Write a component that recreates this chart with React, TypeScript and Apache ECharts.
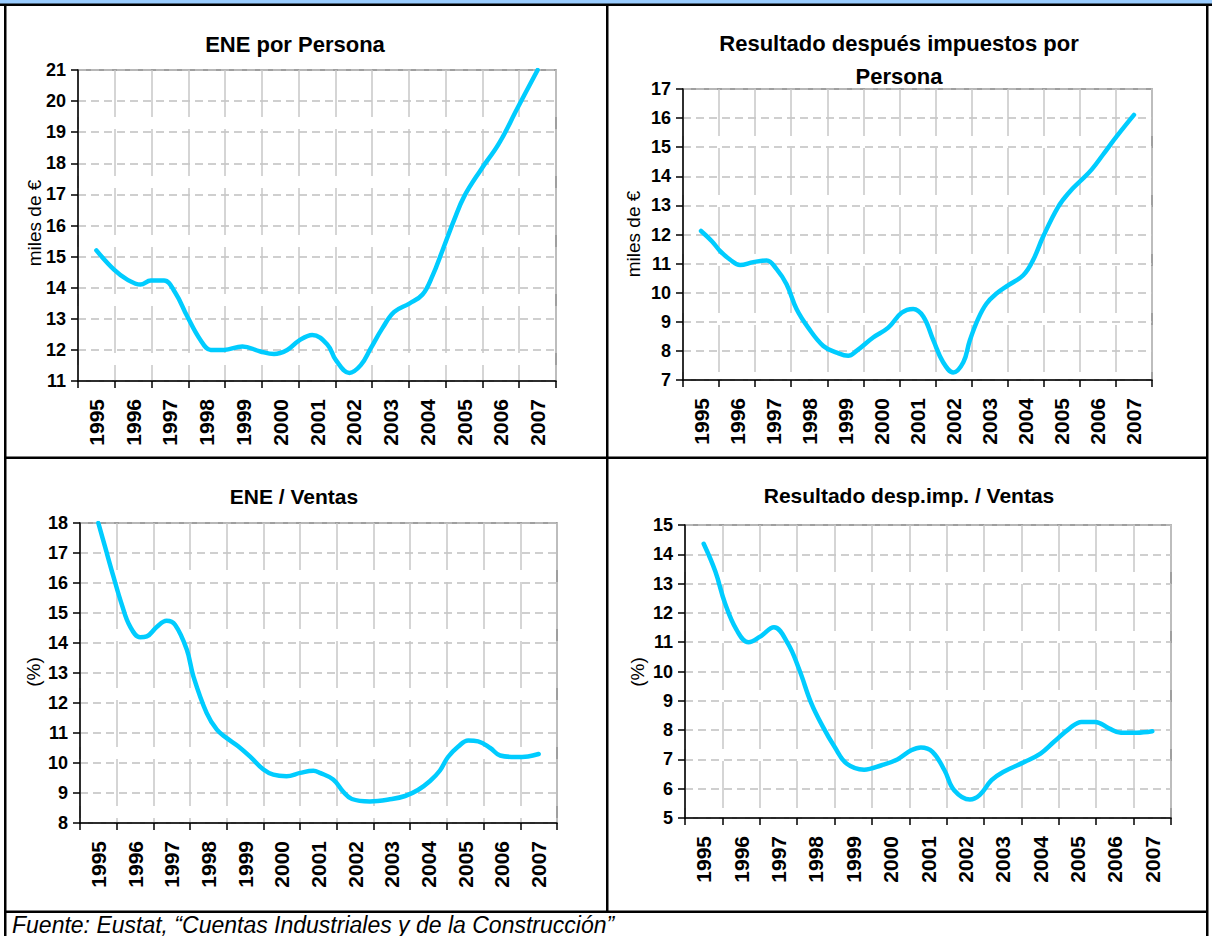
import React, { useEffect, useRef } from "react";
import * as echarts from "echarts";

const FONT = '"Liberation Sans", Arial, Helvetica, sans-serif';

// Category labels
const years = ["1995", "1996", "1997", "1998", "1999", "2000", "2001", "2002", "2003", "2004", "2005", "2006", "2007"];

// ENE por Persona (miles de €)
const enePersonaX = [1995.0, 1995.48, 1995.84, 1996.2, 1996.48, 1996.84, 1997.15, 1997.47, 1997.83, 1998.11, 1998.47, 1998.97, 1999.46, 1999.83, 2000.19, 2000.51, 2000.87, 2001.29, 2001.51, 2001.88, 2002.19, 2002.46, 2002.78, 2003.1, 2003.51, 2003.87, 2004.14, 2004.41, 2004.73, 2005.0, 2005.45, 2005.95, 2006.45, 2007.0];
const enePersonaY = [15.2, 14.58, 14.26, 14.1, 14.23, 14.23, 13.83, 13.08, 12.32, 12.0, 12.0, 12.11, 11.95, 11.87, 12.0, 12.3, 12.48, 12.16, 11.68, 11.26, 11.51, 12.05, 12.7, 13.22, 13.49, 13.78, 14.38, 15.19, 16.18, 16.93, 17.78, 18.64, 19.77, 21.0];

// Resultado después impuestos por Persona (miles de €)
const resPersonaX = [1995.0, 1995.3, 1995.53, 1995.8, 1996.08, 1996.45, 1996.82, 1997.1, 1997.37, 1997.65, 1997.97, 1998.39, 1998.76, 1999.08, 1999.31, 1999.77, 2000.19, 2000.56, 2000.88, 2001.16, 2001.44, 2001.71, 2001.99, 2002.27, 2002.45, 2002.68, 2002.91, 2003.19, 2003.51, 2003.93, 2004.2, 2004.48, 2004.9, 2005.22, 2005.5, 2005.82, 2006.14, 2006.52, 2007.0];
const resPersonaY = [12.12, 11.77, 11.43, 11.14, 10.95, 11.05, 11.11, 10.8, 10.29, 9.43, 8.8, 8.17, 7.94, 7.83, 8.0, 8.46, 8.8, 9.31, 9.44, 9.18, 8.36, 7.61, 7.26, 7.61, 8.36, 9.1, 9.62, 9.97, 10.25, 10.6, 11.11, 11.92, 12.95, 13.47, 13.82, 14.22, 14.74, 15.37, 16.11];

// ENE / Ventas (%)
const eneVentasX = [1995.0, 1995.18, 1995.41, 1995.64, 1995.86, 1996.14, 1996.32, 1996.59, 1996.86, 1997.09, 1997.41, 1997.59, 1997.95, 1998.23, 1998.5, 1998.81, 1999.13, 1999.5, 1999.77, 2000.13, 2000.5, 2000.86, 2001.04, 2001.4, 2001.67, 2001.91, 2002.4, 2003.0, 2003.36, 2003.71, 2004.04, 2004.31, 2004.53, 2004.81, 2005.08, 2005.35, 2005.68, 2005.95, 2006.36, 2006.71, 2007.0];
const eneVentasY = [18.0, 17.22, 16.22, 15.28, 14.56, 14.19, 14.22, 14.53, 14.74, 14.61, 13.78, 12.89, 11.67, 11.11, 10.83, 10.56, 10.22, 9.78, 9.61, 9.56, 9.67, 9.74, 9.67, 9.45, 9.05, 8.8, 8.72, 8.8, 8.9, 9.1, 9.4, 9.75, 10.2, 10.55, 10.75, 10.72, 10.5, 10.25, 10.2, 10.22, 10.3];

// Resultado desp.imp. / Ventas (%)
const resVentasX = [1995.0, 1995.31, 1995.57, 1995.88, 1996.2, 1996.51, 1996.88, 1997.25, 1997.56, 1997.88, 1998.19, 1998.5, 1998.82, 1999.29, 1999.76, 2000.18, 2000.55, 2000.81, 2001.12, 2001.44, 2001.7, 2002.12, 2002.38, 2002.7, 2003.01, 2003.54, 2004.01, 2004.37, 2004.79, 2005.11, 2005.47, 2005.84, 2006.16, 2006.58, 2007.0];
const resVentasY = [14.36, 13.42, 12.33, 11.42, 11.0, 11.19, 11.51, 10.96, 10.05, 8.91, 8.11, 7.43, 6.86, 6.65, 6.8, 7.0, 7.31, 7.41, 7.26, 6.63, 5.95, 5.63, 5.78, 6.29, 6.57, 6.89, 7.2, 7.6, 8.06, 8.28, 8.28, 8.06, 7.91, 7.91, 7.96];

const panels = [
  { title: ["ENE por Persona"], titleX: 295, titleY: [44], titleSize: 22, unit: "miles de €", unitX: 34, unitY: 223, min: 11, max: 21, xs: enePersonaX, ys: enePersonaY, grid: { left: 78, top: 70, width: 478, height: 311 } },
  { title: ["Resultado después impuestos por", "Persona"], titleX: 899, titleY: [43, 76], titleSize: 22, unit: "miles de €", unitX: 633, unitY: 234, min: 7, max: 17, xs: resPersonaX, ys: resPersonaY, grid: { left: 683, top: 89, width: 469, height: 291 } },
  { title: ["ENE / Ventas"], titleX: 294, titleY: [496], titleSize: 21, unit: "(%)", unitX: 33, unitY: 672, min: 8, max: 18, xs: eneVentasX, ys: eneVentasY, grid: { left: 80, top: 523, width: 477, height: 300 } },
  { title: ["Resultado desp.imp. / Ventas"], titleX: 909, titleY: [495], titleSize: 21, unit: "(%)", unitX: 637, unitY: 672, min: 5, max: 15, xs: resVentasX, ys: resVentasY, grid: { left: 685, top: 525, width: 486, height: 293 } },
];

function buildOption() {
  const grid: any[] = [];
  const xAxis: any[] = [];
  const yAxis: any[] = [];
  const series: any[] = [];
  const graphic: any[] = [];

  panels.forEach((p, i) => {
    grid.push({ ...p.grid, show: true, borderColor: "#808080", borderWidth: 1.5, backgroundColor: "#ffffff", containLabel: false });
    xAxis.push({
      type: "category",
      gridIndex: i,
      data: years,
      boundaryGap: true,
      axisLine: { show: true, lineStyle: { color: "#000", width: 1.5 } },
      axisTick: { show: true, interval: 0, length: 7, lineStyle: { color: "#000", width: 1.5 } },
      axisLabel: { interval: 0, rotate: 90, margin: 18, fontSize: 21, fontWeight: "bold", color: "#000", fontFamily: FONT },
      splitLine: { show: true, interval: 0, lineStyle: { color: "#c8c8c8", width: 1.5, type: [47, 12] } },
    });
    xAxis.push({ type: "value", gridIndex: i, min: 1994.5, max: 2007.5, show: false, splitLine: { show: false } });
    yAxis.push({
      type: "value",
      gridIndex: i,
      min: p.min,
      max: p.max,
      interval: 1,
      axisLine: { show: true, lineStyle: { color: "#000", width: 1.5 } },
      axisTick: { show: true, length: 7, lineStyle: { color: "#000", width: 1.5 } },
      axisLabel: { margin: 12, fontSize: 18, fontWeight: "bold", color: "#000", fontFamily: FONT },
      splitLine: { show: true, lineStyle: { color: "#c0c0c0", width: 1.5, type: [8, 5] } },
    });
    series.push({
      type: "line",
      xAxisIndex: 2 * i + 1,
      yAxisIndex: i,
      data: p.xs.map((x, k) => [x, p.ys[k]]),
      smooth: 0.4,
      symbol: "none",
      showSymbol: false,
      clip: true,
      lineStyle: { color: "#00CCFF", width: 4.5, cap: "round", join: "round" },
      z: 5,
    });
    p.title.forEach((t, k) => {
      graphic.push({
        type: "text",
        x: p.titleX,
        y: p.titleY[k],
        style: { text: t, fill: "#000", fontSize: p.titleSize, fontWeight: "bold", fontFamily: FONT, align: "center", verticalAlign: "middle", textAlign: "center", textVerticalAlign: "middle" },
      });
    });
    graphic.push({
      type: "text",
      x: p.unitX,
      y: p.unitY,
      rotation: Math.PI / 2,
      style: { text: p.unit, fill: "#000", fontSize: 19, fontFamily: FONT, align: "center", verticalAlign: "middle", textAlign: "center", textVerticalAlign: "middle" },
    });
  });

  // table frame
  const rect = (x: number, y: number, w: number, h: number, fill: string) => ({ type: "rect", shape: { x, y, width: w, height: h }, style: { fill }, silent: true, z: 10 });
  graphic.push(rect(0, 0, 1212, 4, "#99CCFF"));
  graphic.push(rect(0, 3.5, 1212, 2.5, "#000"));
  graphic.push(rect(4, 4, 2.5, 932, "#000"));
  graphic.push(rect(606, 4, 2.5, 908, "#000"));
  graphic.push(rect(1206, 4, 2.5, 932, "#000"));
  graphic.push(rect(4, 456.5, 1204, 2.5, "#000"));
  graphic.push(rect(4, 910.5, 1204, 2.5, "#000"));
  graphic.push({
    type: "text",
    x: 12,
    y: 925,
    style: { text: "Fuente: Eustat, “Cuentas Industriales y de la Construcción”", fill: "#000", fontSize: 23, fontStyle: "italic", fontFamily: FONT, align: "left", verticalAlign: "middle", textAlign: "left", textVerticalAlign: "middle" },
  });

  return { animation: false, backgroundColor: "#ffffff", grid, xAxis, yAxis, series, graphic };
}

export default function App() {
  const ref = useRef<HTMLDivElement>(null);
  useEffect(() => {
    document.body.style.margin = "0";
    if (!ref.current) return;
    const chart = echarts.init(ref.current, undefined, { renderer: "svg" });
    chart.setOption(buildOption() as any);
    return () => chart.dispose();
  }, []);
  return <div ref={ref} style={{ width: 1212, height: 936, position: "absolute", left: 0, top: 0 }} />;
}
